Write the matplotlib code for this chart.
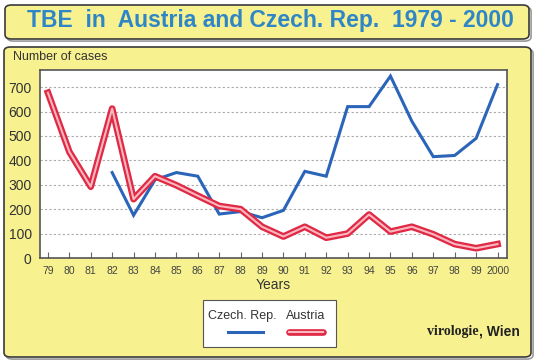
import matplotlib
matplotlib.use("Agg")
import matplotlib.pyplot as plt
from matplotlib.patches import FancyBboxPatch
from matplotlib.lines import Line2D
import matplotlib.patheffects as pe

plt.rcParams['font.family'] = ['Liberation Sans', 'DejaVu Sans']

years = list(range(1979, 2001))
year_labels = ['79', '80', '81', '82', '83', '84', '85', '86', '87', '88', '89',
               '90', '91', '92', '93', '94', '95', '96', '97', '98', '99', '2000']
czech_years = list(range(1982, 2001))
czech = [350, 175, 320, 350, 335, 180, 190, 165, 195, 355, 335, 620, 620, 745,
         560, 415, 420, 490, 710]
austria = [677, 435, 292, 612, 241, 335, 298, 255, 213, 200, 128, 88, 128, 83,
           100, 178, 108, 128, 97, 57, 40, 57]
yticks = [0, 100, 200, 300, 400, 500, 600, 700]

W, H = 541, 363
fig = plt.figure(figsize=(W / 100, H / 100), dpi=100)
fig.patch.set_facecolor('white')

yellow = '#f7f18f'

def fx(px):
    return px / W

def fy(py):
    return 1 - py / H

# Title box
tb = FancyBboxPatch((fx(5), fy(39)), fx(524), 34 / H,
                    boxstyle="round,pad=0,rounding_size=0.012",
                    transform=fig.transFigure, facecolor=yellow,
                    edgecolor='#3a3a3a', linewidth=1.2, zorder=-2,
                    path_effects=[pe.SimpleLineShadow(offset=(1.5, -1.5), shadow_color='#555555', alpha=0.6), pe.Normal()])
fig.add_artist(tb)
fig.text(fx(270), fy(21), 'TBE  in  Austria and Czech. Rep.  1979 - 2000',
         ha='center', va='center', fontsize=16.5, fontweight='bold', color='#2f86c6')

# Main panel
pb = FancyBboxPatch((fx(4), fy(357)), fx(527), 310 / H,
                    boxstyle="round,pad=0,rounding_size=0.012",
                    transform=fig.transFigure, facecolor=yellow,
                    edgecolor='#3a3a3a', linewidth=1.2, zorder=-2,
                    path_effects=[pe.SimpleLineShadow(offset=(1.5, -1.5), shadow_color='#555555', alpha=0.6), pe.Normal()])
fig.add_artist(pb)

fig.text(fx(13), fy(57), 'Number of cases', ha='left', va='center',
         fontsize=9, color='#333333')

ax = fig.add_axes([fx(40), fy(258), fx(506.5 - 40), (258 - 70) / H])
ax.set_zorder(5)
ax.set_facecolor('white')
for s in ax.spines.values():
    s.set_color('#555555')
    s.set_linewidth(1.2)

ax.plot(czech_years, czech, color='#2b65b9', lw=2.2, solid_joinstyle='miter', zorder=3)
ax.plot(years, austria, color='#e02a45', lw=4.8, zorder=4)
ax.plot(years, austria, color='#fbb7c0', lw=1.5, zorder=5)

ax.set_xlim(1978.63, 2000.42)
ax.set_ylim(0, 770)
ax.set_xticks(years)
ax.set_xticklabels(year_labels, fontsize=7.5, color='#444444')
ax.set_yticks(yticks)
ax.set_yticklabels([str(v) for v in yticks], fontsize=10, color='#333333')
ax.tick_params(axis='x', direction='in', length=4, color='#666666', pad=6)
ax.tick_params(axis='y', length=0, pad=6)
for v in yticks[1:]:
    ax.axhline(v, color='#aaaaaa', lw=0.8, ls=(0, (2, 2)), zorder=1)

fig.text(fx(273), fy(285), 'Years', ha='center', va='center',
         fontsize=10, color='#333333')

# Legend
lb = FancyBboxPatch((fx(203), fy(347)), fx(133), 47 / H,
                    boxstyle="square,pad=0", transform=fig.transFigure,
                    facecolor='white', edgecolor='#555555', linewidth=0.8)
fig.add_artist(lb)
fig.text(fx(242), fy(316), 'Czech. Rep.', ha='center', va='center',
         fontsize=9, color='#333333')
fig.text(fx(306), fy(316), 'Austria', ha='center', va='center',
         fontsize=9, color='#333333')
fig.add_artist(Line2D([fx(228), fx(263)], [fy(332), fy(332)],
                      transform=fig.transFigure, color='#2b65b9', lw=2.2))
fig.add_artist(Line2D([fx(289), fx(323)], [fy(332), fy(332)],
                      transform=fig.transFigure, color='#e02a45', lw=4.8,
                      solid_capstyle='round'))
fig.add_artist(Line2D([fx(289), fx(323)], [fy(332), fy(332)],
                      transform=fig.transFigure, color='#fbb7c0', lw=1.5))

fig.text(fx(427), fy(332), 'virologie', ha='left', va='center',
         fontsize=10, fontweight='bold', color='#222222', family='Liberation Serif')
fig.text(fx(479), fy(332), ', Wien', ha='left', va='center',
         fontsize=10, fontweight='bold', color='#222222')

fig.savefig('out.png', dpi=100, facecolor='white')
